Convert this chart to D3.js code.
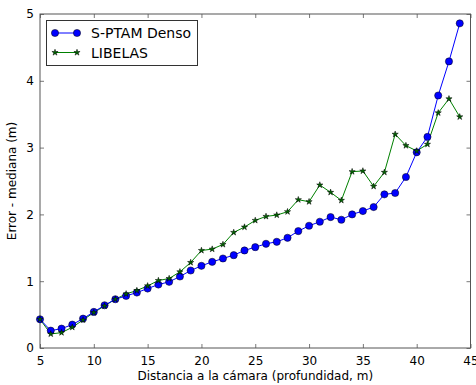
<!DOCTYPE html>
<html>
<head>
<meta charset="utf-8">
<script src="https://cdn.jsdelivr.net/npm/d3@7"></script>
<style>
  body { margin: 0; background: #fff; }
  svg { display: block; }
  text { font-family: "DejaVu Sans", sans-serif; }
</style>
</head>
<body>
<svg id="chart" width="476" height="385"></svg>
<script>
// Depth (m) at which the median error was measured
const distances = [5,6,7,8,9,10,11,12,13,14,15,16,17,18,19,20,21,22,23,24,25,26,27,28,29,30,31,32,33,34,35,36,37,38,39,40,41,42,43,44];
// Median error (m) per method
const sptamDenso = [0.43,0.26,0.29,0.35,0.44,0.54,0.64,0.73,0.78,0.83,0.89,0.95,0.99,1.07,1.16,1.23,1.29,1.34,1.39,1.46,1.51,1.56,1.59,1.65,1.75,1.83,1.89,1.96,1.92,2.00,2.05,2.11,2.30,2.32,2.56,2.93,3.16,3.78,4.29,4.86];
const libelas = [0.43,0.21,0.23,0.31,0.42,0.53,0.63,0.73,0.81,0.86,0.93,1.01,1.04,1.14,1.28,1.46,1.48,1.55,1.73,1.81,1.91,1.97,1.99,2.04,2.22,2.19,2.44,2.33,2.21,2.64,2.65,2.42,2.63,3.20,3.03,2.95,3.05,3.52,3.73,3.46];
const xTicks = [5,10,15,20,25,30,35,40,45];
const yTicks = [0,1,2,3,4,5];
const seriesNames = ["S-PTAM Denso", "LIBELAS"];

const svg = d3.select("#chart");
const margin = { left: 40, right: 5.5, top: 14, bottom: 37 };
const W = 476, H = 385;
const x = d3.scaleLinear().domain([5, 45]).range([margin.left, W - margin.right]);
const y = d3.scaleLinear().domain([0, 5]).range([H - margin.bottom, margin.top]);

const frameColor = "#555";
const tickLen = 4;
const fmt = d3.format("d");

// Axes with inward ticks on all four sides
const gx = svg.append("g").attr("transform", `translate(0,${y(0)})`)
  .call(d3.axisBottom(x).tickValues(xTicks).tickFormat(fmt).tickSizeInner(-tickLen).tickSizeOuter(0).tickPadding(8));
const gxTop = svg.append("g").attr("transform", `translate(0,${y(5)})`)
  .call(d3.axisTop(x).tickValues(xTicks).tickSizeInner(-tickLen).tickSizeOuter(0).tickFormat(""));
const gy = svg.append("g").attr("transform", `translate(${x(5)},0)`)
  .call(d3.axisLeft(y).tickValues(yTicks).tickFormat(fmt).tickSizeInner(-tickLen).tickSizeOuter(0).tickPadding(6));
const gyRight = svg.append("g").attr("transform", `translate(${x(45)},0)`)
  .call(d3.axisRight(y).tickValues(yTicks).tickSizeInner(-tickLen).tickSizeOuter(0).tickFormat(""));

[gx, gxTop, gy, gyRight].forEach(g => {
  g.attr("font-family", null);
  g.select(".domain").remove();
  g.selectAll(".tick line").attr("stroke", frameColor).attr("stroke-width", 0.8);
  g.selectAll(".tick text").attr("fill", "#000").attr("font-size", 12);
});

// Frame
svg.append("rect")
  .attr("x", x(5)).attr("y", y(5))
  .attr("width", x(45) - x(5)).attr("height", y(0) - y(5))
  .attr("fill", "none").attr("stroke", frameColor).attr("stroke-width", 1);

const plot = svg.append("g");
const line = d3.line().x((d, i) => x(distances[i])).y(d => y(d));

// LIBELAS line
plot.append("path").datum(libelas)
  .attr("d", line).attr("fill", "none").attr("stroke", "#008000").attr("stroke-width", 1);

// S-PTAM Denso line and markers
plot.append("path").datum(sptamDenso)
  .attr("d", line).attr("fill", "none").attr("stroke", "#0000ff").attr("stroke-width", 1);

const star = d3.symbol().type(d3.symbolStar).size(12);

plot.selectAll(".sp").data(sptamDenso).join("circle")
  .attr("class", "sp")
  .attr("cx", (d, i) => x(distances[i])).attr("cy", d => y(d))
  .attr("r", 3.6)
  .attr("fill", "#0000ff").attr("stroke", "#000").attr("stroke-width", 0.5);

// LIBELAS star markers on top
plot.selectAll(".lib").data(libelas).join("path")
  .attr("class", "lib")
  .attr("d", star)
  .attr("transform", (d, i) => `translate(${x(distances[i])},${y(d)})`)
  .attr("fill", "#006400").attr("stroke", "#000").attr("stroke-width", 0.5);

// Legend
const lg = svg.append("g");
lg.append("rect").attr("x", 46.5).attr("y", 20.5).attr("width", 151).attr("height", 45)
  .attr("fill", "#fff").attr("stroke", "#333").attr("stroke-width", 1);
const legendRows = [
  { name: seriesNames[0], color: "#0000ff", marker: "circle", yy: 33 },
  { name: seriesNames[1], color: "#008000", marker: "star", yy: 52.5 }
];
legendRows.forEach(r => {
  lg.append("line").attr("x1", 55).attr("x2", 77).attr("y1", r.yy).attr("y2", r.yy)
    .attr("stroke", r.color).attr("stroke-width", 1);
  [55, 77].forEach(px => {
    if (r.marker === "circle") {
      lg.append("circle").attr("cx", px).attr("cy", r.yy).attr("r", 3.6)
        .attr("fill", "#0000ff").attr("stroke", "#000").attr("stroke-width", 0.5);
    } else {
      lg.append("path").attr("d", star).attr("transform", `translate(${px},${r.yy})`)
        .attr("fill", "#006400").attr("stroke", "#000").attr("stroke-width", 0.5);
    }
  });
  lg.append("text").attr("x", 91).attr("y", r.yy).attr("dy", "0.36em")
    .attr("font-size", 14).attr("fill", "#000").text(r.name);
});

// Axis titles
svg.append("text").attr("x", (x(5) + x(45)) / 2).attr("y", 380)
  .attr("text-anchor", "middle").attr("font-size", 12).attr("fill", "#000")
  .text("Distancia a la cámara (profundidad, m)");
svg.append("text").attr("transform", `translate(16,${(y(0) + y(5)) / 2}) rotate(-90)`)
  .attr("text-anchor", "middle").attr("font-size", 12).attr("fill", "#000")
  .text("Error - mediana (m)");
</script>
</body>
</html>
